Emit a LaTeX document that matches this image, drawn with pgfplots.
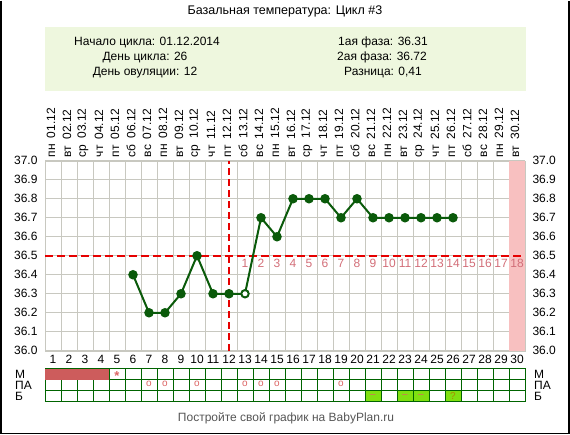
\documentclass[border=0pt]{standalone}
\usepackage{pgfplots}
\pgfplotsset{compat=1.18}
\usepackage{fontspec}
\setmainfont{Liberation Sans}
\definecolor{gridgray}{RGB}{200,200,192}
\definecolor{plotgreen}{RGB}{10,90,10}
\definecolor{ovred}{RGB}{230,0,0}
\definecolor{pinknum}{RGB}{210,110,120}
\definecolor{pinkband}{RGB}{248,192,192}
\definecolor{mfill}{RGB}{205,92,92}
\definecolor{tabgreen}{RGB}{0,100,0}
\definecolor{pacirc}{RGB}{220,100,100}
\definecolor{bgreen}{RGB}{128,224,16}
\definecolor{boxgreen}{RGB}{238,247,222}
\definecolor{footgray}{RGB}{85,85,85}
\newcommand{\dl}[2]{#1\hspace{6bp}#2}
\begin{document}
\begin{tikzpicture}[font=\fontsize{12bp}{14bp}\selectfont]
\begin{scope}[x=1bp,y=1bp]
\useasboundingbox (0,-434) rectangle (570,0);
\fill[boxgreen] (45,-26) rectangle (526,-90);
\node[font=\fontsize{12.5bp}{14bp}\selectfont] at (285,-11) {Базальная температура: Цикл \#3};
\node at (147,-42) {Начало цикла: 01.12.2014};
\node at (145,-57) {День цикла: 26};
\node at (145,-72) {День овуляции: 12};
\node at (383,-42) {1ая фаза: 36.31};
\node at (382,-57) {2ая фаза: 36.72};
\node at (383,-72) {Разница: 0,41};
\end{scope}

\pgfplotsset{
  tempaxis/.style={
    at={(45bp,-350bp)}, anchor=south west, scale only axis,
    width=480bp, height=190bp,
    xmin=0.5, xmax=30.5, ymin=36, ymax=37,
    xtick={1,...,30}, major tick length=0pt, minor tick length=0pt,
    ytick={36.0,36.1,36.2,36.3,36.4,36.5,36.6,36.7,36.8,36.9,37.0},
    yticklabel style={/pgf/number format/fixed,/pgf/number format/fixed zerofill,/pgf/number format/precision=1},
    /pgf/number format/assume math mode=true,
    tick label style={font=\fontsize{12bp}{14bp}\selectfont},
    axis line style={gridgray},
  }
}
\begin{axis}[tempaxis,
  minor xtick={0.5,1.5,...,30.5},
  xminorgrids=true, ymajorgrids=true, xmajorgrids=false,
  grid style={gridgray, line width=0.8bp},
  minor grid style={gridgray, line width=0.8bp},
  yticklabel style={xshift=-4bp},
  xticklabel style={yshift=-1bp},
  clip=false]
\fill[pinkband] (axis cs:29.5,36) rectangle (axis cs:30.5,37);
\addplot[ovred, line width=1.5bp, dash pattern=on 8bp off 4bp] coordinates {(0.5,36.5) (30.5,36.5)};
\addplot[ovred, line width=2bp, dash pattern=on 7bp off 4bp] coordinates {(12,36) (12,37)};
\foreach \k in {1,...,18} {
  \edef\tmp{\noexpand\node[pinknum, anchor=north, inner sep=1.5bp] at (axis cs:{12+\k},36.49) {\k};}
  \tmp
}
\addplot[plotgreen, line width=2bp, mark=*, mark size=3.7bp, mark options={fill=plotgreen}] coordinates {
(6,36.4) (7,36.2) (8,36.2) (9,36.3) (10,36.5) (11,36.3) (12,36.3) (13,36.3)
(14,36.7) (15,36.6) (16,36.8) (17,36.8) (18,36.8) (19,36.7) (20,36.8)
(21,36.7) (22,36.7) (23,36.7) (24,36.7) (25,36.7) (26,36.7)};
\addplot[plotgreen, line width=1bp, only marks, mark=*, mark size=3.2bp, mark options={fill=white}] coordinates {(13,36.3)};
\end{axis}

\begin{axis}[tempaxis,
  axis y line*=right, axis x line*=top,
  xticklabels={\dl{пн}{01.12},\dl{вт}{02.12},\dl{ср}{03.12},\dl{чт}{04.12},\dl{пт}{05.12},\dl{сб}{06.12},\dl{вс}{07.12},\dl{пн}{08.12},\dl{вт}{09.12},\dl{ср}{10.12},\dl{чт}{11.12},\dl{пт}{12.12},\dl{сб}{13.12},\dl{вс}{14.12},\dl{пн}{15.12},\dl{вт}{16.12},\dl{ср}{17.12},\dl{чт}{18.12},\dl{пт}{19.12},\dl{сб}{20.12},\dl{вс}{21.12},\dl{пн}{22.12},\dl{вт}{23.12},\dl{ср}{24.12},\dl{чт}{25.12},\dl{пт}{26.12},\dl{сб}{27.12},\dl{вс}{28.12},\dl{пн}{29.12},\dl{вт}{30.12}},
  xticklabel style={rotate=90, anchor=west, yshift=2bp},
  yticklabel style={xshift=4bp},
  axis line style={draw=none}]
\addplot[draw=none] coordinates {(1,36.5)};
\end{axis}

\begin{axis}[at={(45bp,-401bp)}, anchor=south west, scale only axis,
  width=480bp, height=33bp,
  xmin=0.5, xmax=30.5, ymin=0, ymax=3,
  xtick={1,...,30}, xticklabels={}, ytick={1,2}, yticklabels={},
  minor xtick={0.5,1.5,...,30.5},
  major tick length=0pt, minor tick length=0pt,
  xminorgrids=true, ymajorgrids=true, xmajorgrids=false,
  grid style={tabgreen, line width=1bp},
  minor grid style={tabgreen, line width=1bp},
  axis line style={tabgreen, line width=1bp},
  clip=false]
\fill[mfill] (axis cs:0.5,2) rectangle (axis cs:4.5,3);
\node[pacirc, font=\fontsize{13bp}{13bp}\selectfont\bfseries] at (axis cs:5,2.35) {*};
\foreach \d in {7,8,10,13,14,15,19} {
  \edef\tmp{\noexpand\node[pacirc, font=\noexpand\fontsize{10bp}{10bp}\noexpand\selectfont] at (axis cs:\d,1.6) {o};}
  \tmp
}
\foreach \d in {21,23,24,26} {
  \edef\tmp{\noexpand\filldraw[fill=bgreen, draw=tabgreen, line width=1bp] (axis cs:{\d-0.5},0) rectangle (axis cs:{\d+0.5},1);}
  \tmp
}
\foreach \d in {21,23,24} {
  \edef\tmp{\noexpand\node[pacirc, font=\noexpand\fontsize{10bp}{10bp}\noexpand\selectfont] at (axis cs:\d,0.5) {–};}
  \tmp
}
\node[color={rgb,255:red,170;green,140;blue,0}, font=\fontsize{10bp}{10bp}\selectfont] at (axis cs:26,0.5) {?};
\end{axis}

\begin{scope}[x=1bp,y=1bp]
\foreach \lab/\yy in {М/-373.5,ПА/-384.5,Б/-395.5} {
  \node[anchor=west, inner sep=0pt] at (15,\yy) {\lab};
  \node[anchor=west, inner sep=0pt] at (534,\yy) {\lab};
}
\node[footgray] at (286,-418) {Постройте свой график на BabyPlan.ru};
\draw[line width=1.5bp] (0.75,0) -- (0.75,-432.75) -- (568.75,-432.75) -- (568.75,0);
\end{scope}
\end{tikzpicture}
\end{document}
